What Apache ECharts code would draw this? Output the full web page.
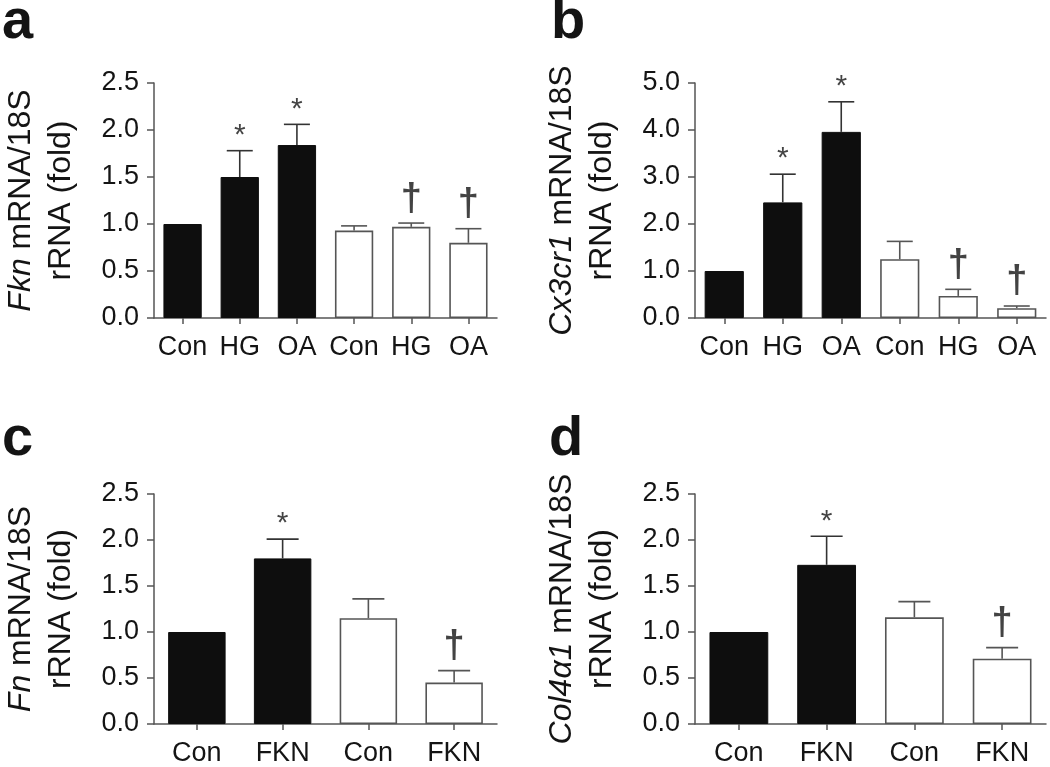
<!DOCTYPE html>
<html><head><meta charset="utf-8">
<script src="https://cdn.jsdelivr.net/npm/echarts@6/dist/echarts.min.js"></script>
<style>html,body{margin:0;padding:0;background:#fff}#c{width:1050px;height:767px}</style>
</head><body><div id="c"></div>
<script>
// ---- data ----
const catsTop = ['Con', 'HG', 'OA', 'Con', 'HG', 'OA'];
const groupsTop = [0, 0, 0, 1, 1, 1];           // 0 = filled, 1 = open
const fknVals = [1.00, 1.50, 1.84, 0.93, 0.97, 0.80];
const fknErrs = [0, 0.28, 0.22, 0.05, 0.04, 0.15];
const fknMarks = ['', '*', '*', '', '†', '†'];
const cx3Vals = [1.00, 2.46, 3.96, 1.25, 0.47, 0.21];
const cx3Errs = [0, 0.60, 0.64, 0.38, 0.14, 0.045];
const cx3Marks = ['', '*', '*', '', '†', '†'];

const catsBottom = ['Con', 'FKN', 'Con', 'FKN'];
const groupsBottom = [0, 0, 1, 1];
const fnVals = [1.00, 1.80, 1.15, 0.45];
const fnErrs = [0, 0.21, 0.21, 0.13];
const fnMarks = ['', '*', '', '†'];
const colVals = [1.00, 1.73, 1.16, 0.71];
const colErrs = [0, 0.31, 0.17, 0.12];
const colMarks = ['', '*', '', '†'];

const yMaxA = 2.5, yStepA = 0.5;
const yMaxB = 5.0, yStepB = 1.0;

const panelLetters = ['a', 'b', 'c', 'd'];
const titleA = '{i|Fkn} mRNA/18S\nrRNA (fold)';
const titleB = '{i|Cx3cr1} mRNA/18S\nrRNA (fold)';
const titleC = '{i|Fn} mRNA/18S\nrRNA (fold)';
const titleD = '{i|Col4α1} mRNA/18S\nrRNA (fold)';

// ---- styles ----
const FONT = '"Liberation Sans", Arial, Helvetica, sans-serif';
const INK = '#141414';
const AX = '#555';

const panels = [
  {cats: catsTop, groups: groupsTop, vals: fknVals, errs: fknErrs, marks: fknMarks, max: yMaxA, step: yStepA, title: titleA,
   grid: {left: 145, top: 83, width: 352, height: 235}, cap: 13},
  {cats: catsTop, groups: groupsTop, vals: cx3Vals, errs: cx3Errs, marks: cx3Marks, max: yMaxB, step: yStepB, title: titleB,
   grid: {left: 695, top: 83, width: 351, height: 235}, cap: 13},
  {cats: catsBottom, groups: groupsBottom, vals: fnVals, errs: fnErrs, marks: fnMarks, max: yMaxA, step: yStepA, title: titleC,
   grid: {left: 145, top: 494, width: 352, height: 235}, cap: 16},
  {cats: catsBottom, groups: groupsBottom, vals: colVals, errs: colErrs, marks: colMarks, max: yMaxA, step: yStepA, title: titleD,
   grid: {left: 695, top: 494, width: 351, height: 235}, cap: 16}
];

const grid = [], xAxis = [], yAxis = [], series = [];
panels.forEach((p, k) => {
  grid.push(Object.assign({containLabel: false}, p.grid));
  xAxis.push({
    type: 'category', gridIndex: k, data: p.cats,
    axisLine: {show: true, lineStyle: {color: AX, width: 1.5}},
    axisTick: {show: true, alignWithLabel: true, length: 6, lineStyle: {color: AX, width: 1.5}},
    axisLabel: {color: INK, fontSize: 27, fontFamily: FONT, margin: 16, interval: 0},
    splitLine: {show: false}
  });
  yAxis.push({
    type: 'value', gridIndex: k, min: 0, max: p.max, interval: p.step,
    axisLine: {show: true, lineStyle: {color: AX, width: 1.5}},
    axisTick: {show: true, length: 7, lineStyle: {color: AX, width: 1.5}},
    axisLabel: {color: INK, fontSize: 27, fontFamily: FONT, margin: 15, formatter: v => v.toFixed(1)},
    splitLine: {show: false},
    name: p.title, nameLocation: 'middle', nameGap: 73, nameRotate: 90,
    nameTextStyle: {color: INK, fontSize: 32, fontFamily: FONT, lineHeight: 40,
      rich: {i: {fontStyle: 'italic', fontSize: 32, fontFamily: FONT, color: INK, lineHeight: 40}}}
  });
  series.push({
    type: 'bar', xAxisIndex: k, yAxisIndex: k, barCategoryGap: '33%',
    data: p.vals.map((v, i) => ({
      value: v,
      itemStyle: p.groups[i] === 0
        ? {color: '#0e0e0e', borderColor: '#0e0e0e', borderWidth: 1}
        : {color: '#ffffff', borderColor: '#555', borderWidth: 1.6}
    })),
    z: 2
  });
  const cap = p.cap;
  series.push({
    type: 'custom', xAxisIndex: k, yAxisIndex: k, z: 3,
    data: p.vals.map((v, i) => [i, v, p.errs[i]]),
    renderItem: (params, api) => {
      const e = api.value(2);
      if (!e) return null;
      const i = api.value(0), v = api.value(1);
      const p0 = api.coord([i, v]), p1 = api.coord([i, v + e]);
      const col = p.groups[i] === 0 ? '#333' : '#555';
      return {type: 'group', children: [
        {type: 'line', shape: {x1: p0[0], y1: p0[1], x2: p1[0], y2: p1[1]}, style: {stroke: col, lineWidth: 1.6}},
        {type: 'line', shape: {x1: p1[0] - cap, y1: p1[1], x2: p1[0] + cap, y2: p1[1]}, style: {stroke: col, lineWidth: 1.6}}
      ]};
    }
  });
  series.push({
    type: 'scatter', xAxisIndex: k, yAxisIndex: k, symbolSize: 0, z: 4, silent: true,
    data: p.vals.map((v, i) => [i, v + p.errs[i]]).filter((d, i) => p.marks[i] !== ''),
    label: {
      show: true, position: 'top', distance: 4,
      formatter: (prm) => {
        const m = p.marks.filter(x => x !== '')[prm.dataIndex];
        return m === '*' ? '{s|*}' : '{d|†}';
      },
      rich: {
        s: {fontSize: 30, fontFamily: FONT, color: INK, lineHeight: 30, padding: [0, 0, -8, 0]},
        d: {fontSize: 38, fontFamily: FONT, fontWeight: 'bold', color: INK, lineHeight: 38, padding: [0, 0, 2, 0]}
      }
    }
  });
});

const letterPos = [[2, 23], [551, 23], [2, 440], [549, 440]];
const graphic = panelLetters.map((t, k) => ({
  type: 'text', x: letterPos[k][0], y: letterPos[k][1],
  style: {text: t, font: 'bold 56px ' + FONT, fill: INK, verticalAlign: 'middle', align: 'left'}
}));

const chart = echarts.init(document.getElementById('c'), null, {renderer: 'canvas'});
chart.setOption({
  backgroundColor: '#fff', animation: false,
  grid, xAxis, yAxis, series, graphic
});
</script>
</body></html>
